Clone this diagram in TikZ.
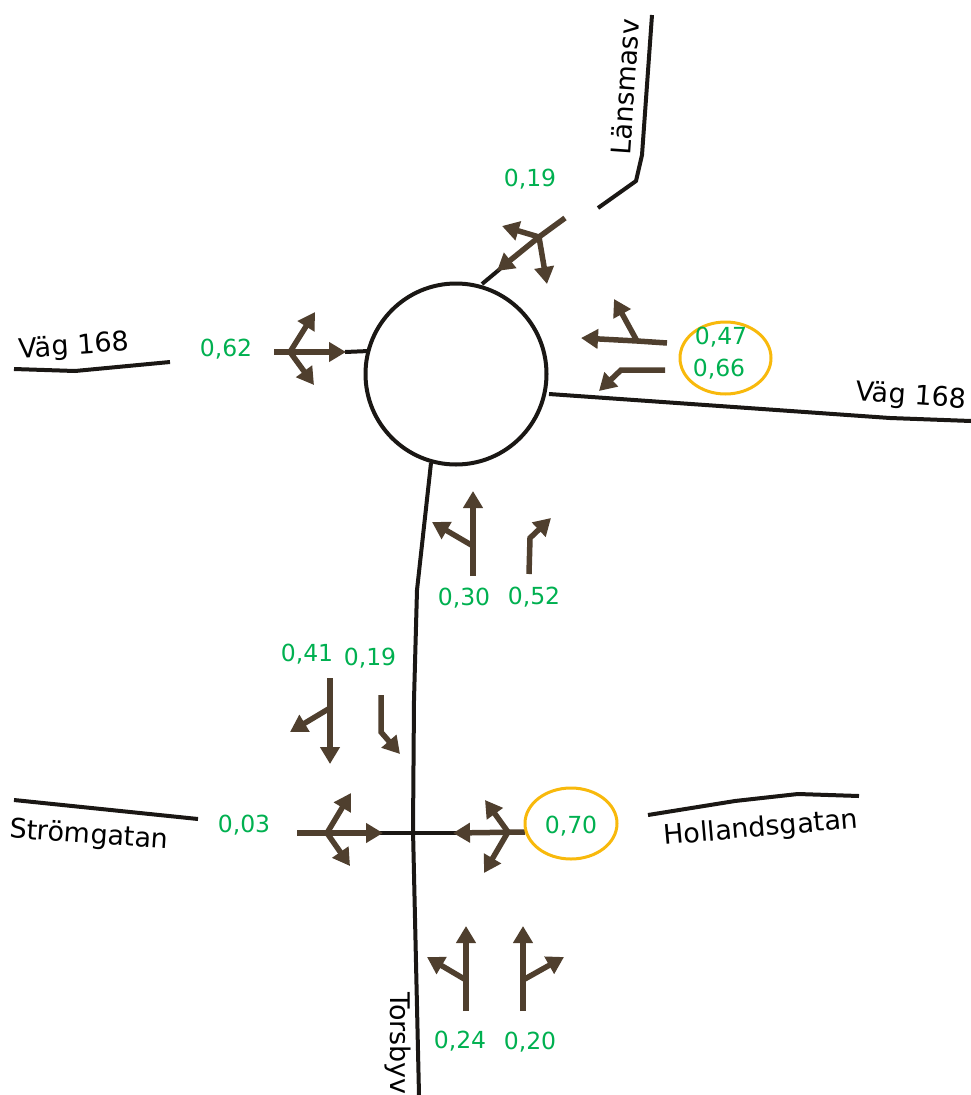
\documentclass[tikz,border=0pt]{standalone}
\usepackage{fontspec}
\setmainfont{DejaVu Sans}
\usetikzlibrary{arrows.meta,shapes.geometric}
\definecolor{brn}{HTML}{4F3F2E}
\definecolor{grn}{HTML}{00B050}
\definecolor{org}{HTML}{F8B90C}
\definecolor{rd}{HTML}{1A1714}
\tikzset{
 road/.style={draw=rd,line width=4pt,line join=round},
 arr/.style={draw=brn,line width=5.5pt,-{Triangle[length=17pt,width=19pt]},line join=miter},
 val/.style={text=grn,font=\fontsize{23.5}{26}\selectfont,inner sep=0pt},
 lab/.style={text=black,font=\fontsize{27}{30}\selectfont,inner sep=0pt},
 ring/.style={draw=org,line width=3pt,ellipse,inner sep=0pt}
}
\begin{document}
\begin{tikzpicture}[x=1pt,y=-1pt]
\path[use as bounding box] (0,0) rectangle (971,1095);
\begin{scope}
\clip (0,0) rectangle (971,1095);
% roads
\draw[road] (598,208)--(636,181)--(642,155)--(652,15);
\draw[road] (482,284)--(500,269);
\draw[road] (549,394)--(890,418)--(971,421);
\draw[road] (14,369)--(75,371)--(170,362);
\draw[road] (345,352)--(369,351);
\draw[road] (431,463)--(417,590)--(414,700)--(413,830)--(419,1095);
\draw[road] (380,833)--(460,833);
\draw[road] (14,800)--(198,819);
\draw[road] (648,815)--(735,801)--(798,794)--(859,796);
\node[draw=rd,line width=4pt,circle,minimum size=181pt,inner sep=0pt] (rb) at (456,374) {};
% north approach
\draw[arr] (565,218)--(539,237)--(497,271);
\draw[arr] (539,237)--(502,226);
\draw[arr] (539,237)--(547,284);
% east approach
\draw[arr] (667,343)--(637,341)--(581,338);
\draw[arr] (637,341)--(614,299);
\draw[arr] (665,370)--(621,370)--(599,391);
% west approach
\draw[arr] (274,352)--(346,352);
\draw[arr] (290,352)--(315,312);
\draw[arr] (290,352)--(314,385);
% south approach
\draw[arr] (473,576)--(473,491);
\draw[arr] (473,546)--(432,522);
\draw[arr] (529,574)--(530,538)--(551,518);
% lower north
\draw[arr] (330,678)--(330,764);
\draw[arr] (330,708)--(290,732);
\draw[arr] (381,695)--(381,732)--(400,754);
% lower west
\draw[arr] (297,833)--(383,833);
\draw[arr] (327,833)--(351,793);
\draw[arr] (327,833)--(350,866);
% lower east
\draw[arr] (525,832)--(453,833);
\draw[arr] (508,832)--(485,800);
\draw[arr] (508,832)--(484,873);
% lower south
\draw[arr] (466,1011)--(466,926);
\draw[arr] (466,980)--(427,957);
\draw[arr] (523,1011)--(523,926);
\draw[arr] (523,980)--(564,957);
% rings
\node[ring,minimum width=91pt,minimum height=72pt] (r1) at (725.5,358) {};
\node[ring,minimum width=92pt,minimum height=71pt] (r2) at (571,823.5) {};
% values
\node[val] (v1) at (530,179) {0,19};
\node[val] (v2) at (226,349) {0,62};
\node[val] (v3) at (721,337) {0,47};
\node[val] (v4) at (719,369) {0,66};
\node[val] (v5) at (464,598) {0,30};
\node[val] (v6) at (534,597) {0,52};
\node[val] (v7) at (307,654) {0,41};
\node[val] (v8) at (370,658) {0,19};
\node[val] (v9) at (244,825) {0,03};
\node[val] (v10) at (571,826) {0,70};
\node[val] (v11) at (460,1041) {0,24};
\node[val] (v12) at (530,1042) {0,20};
% labels
\node[lab,rotate=4] (l1) at (74,347) {Väg 168};
\node[lab,rotate=-4] (l2) at (911,397) {Väg 168};
\node[lab,rotate=-4] (l3) at (89,836) {Strömgatan};
\node[lab,rotate=5] (l4) at (761,829) {Hollandsgatan};
\node[lab,rotate=86] (l5) at (625,87) {Länsmasv};
\node[lab,rotate=-90,anchor=west] (l6) at (398,992) {Torsbyv};
\end{scope}
\end{tikzpicture}
\end{document}
